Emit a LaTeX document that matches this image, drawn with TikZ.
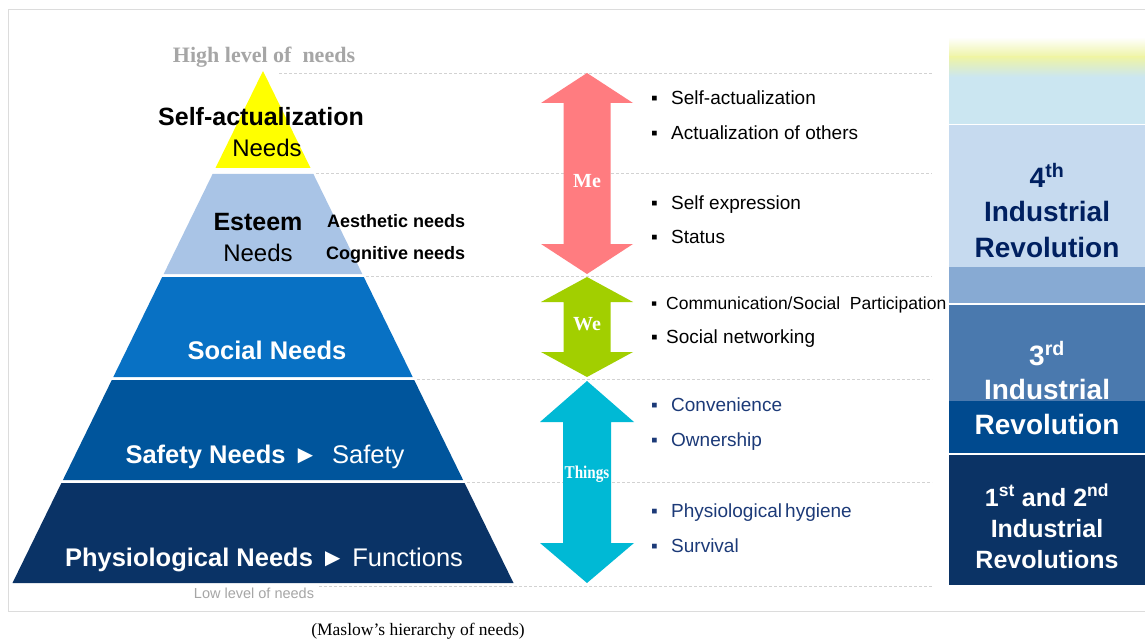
\documentclass[tikz,border=0pt]{standalone}
\usepackage{fontspec}
\setmainfont{Liberation Serif}
\newfontfamily\arial{Liberation Sans}
\usetikzlibrary{calc}
\definecolor{framegray}{HTML}{DCDCDC}
\definecolor{guidegray}{HTML}{D2D2D2}
\definecolor{lvlgray}{HTML}{A6A6A6}
\definecolor{cyel}{HTML}{FFFF00}
\definecolor{cesteem}{HTML}{A9C4E6}
\definecolor{csocial}{HTML}{0871C4}
\definecolor{csafety}{HTML}{00559C}
\definecolor{cphysio}{HTML}{0A3366}
\definecolor{cme}{HTML}{FF7C80}
\definecolor{cwe}{HTML}{A2CF00}
\definecolor{cthings}{HTML}{00B9D5}
\definecolor{navytext}{HTML}{1C3A78}
\definecolor{ir4}{HTML}{002060}
\definecolor{gyel}{HTML}{EEF4A6}
\definecolor{gcyan}{HTML}{CBE6F1}
\definecolor{blk4}{HTML}{C6DAEF}
\definecolor{blkmid}{HTML}{87AAD3}
\definecolor{blk3a}{HTML}{4A79AE}
\definecolor{blk3b}{HTML}{004A8F}
\definecolor{blk12}{HTML}{0B3365}
\begin{document}
\begin{tikzpicture}[x=1pt,y=-1pt,
  guide/.style={guidegray, line width=0.8pt, dash pattern=on 3pt off 2pt},
  bigb/.style={anchor=base, inner sep=0pt, font=\arial\bfseries\fontsize{25}{25}\selectfont},
  bigr/.style={anchor=base, inner sep=0pt, font=\arial\fontsize{24}{24}\selectfont},
  layertext/.style={anchor=base, inner sep=0pt, text=white, font=\arial\fontsize{25.5}{25.5}\selectfont},
  side/.style={anchor=base west, inner sep=0pt, font=\arial\bfseries\fontsize{18}{18}\selectfont},
  bul/.style={anchor=base west, inner sep=0pt, font=\arial\fontsize{19}{19}\selectfont},
  arrlabel/.style={anchor=base, inner sep=0pt, text=white, font=\bfseries\fontsize{20}{20}\selectfont},
  irtext/.style={anchor=base, inner sep=0pt, font=\arial\bfseries\fontsize{28}{28}\selectfont},
]
\useasboundingbox (0,0) rectangle (1145,639);
\fill[white] (0,0) rectangle (1145,639);
% frame
\draw[framegray, line width=1pt] (1145,10) -- (8,10) -- (8,611) -- (1145,611);

% guide lines
\draw[guide] (279,73) -- (932,73);
\draw[guide] (316,173) -- (932,173);
\draw[guide] (366,276) -- (932,276);
\draw[guide] (417,379) -- (932,379);
\draw[guide] (467,482) -- (932,482);
\draw[guide] (319,586) -- (932,586);

% pyramid
\fill[cyel] (263,71) -- (310.5,168) -- (215.5,168) -- cycle;
\fill[cesteem] (212.6,174) -- (313.4,174) -- (362.3,274) -- (163.7,274) -- cycle;
\fill[csocial] (162.2,277) -- (363.8,277) -- (412.7,377) -- (113.3,377) -- cycle;
\fill[csafety] (111.8,380) -- (414.2,380) -- (463.1,480) -- (62.9,480) -- cycle;
\fill[cphysio] (61.4,483) -- (464.6,483) -- (513.5,583) -- (12.5,583) -- cycle;

\node[anchor=base, inner sep=0pt, text=lvlgray, font=\bfseries\fontsize{22}{22}\selectfont] (high) at (264,63) {High level of\ \ needs};
\node[bigb] (sa) at (261,126) {Self-actualization};
\node[bigr] (saN) at (267,157) {Needs};
\node[bigb] (est) at (258,230) {Esteem};
\node[bigr] (estN) at (258,261) {Needs};
\node[side] (aes) at (327,227) {Aesthetic needs};
\node[side] (cog) at (326,259) {Cognitive needs};
\node[layertext] (soc) at (267,359) {\bfseries Social Needs};
\node[layertext] (saf) at (265,463) {\bfseries Safety Needs \mdseries ►\ \ Safety};
\node[layertext] (phy) at (264,566) {\bfseries Physiological Needs \mdseries ► Functions};
\node[anchor=base, inner sep=0pt, text=lvlgray, font=\arial\fontsize{14.5}{14.5}\selectfont] (low) at (254,598) {Low level of needs};

% double arrows
\fill[cme] (587,73) -- (633,103) -- (610.5,103) -- (610.5,244) -- (633,244) -- (587,274)
  -- (541,244) -- (563.5,244) -- (563.5,103) -- (541,103) -- cycle;
\fill[cwe] (587,277) -- (633,302) -- (610.5,302) -- (610.5,352) -- (633,352) -- (587,377)
  -- (541,352) -- (563.5,352) -- (563.5,302) -- (541,302) -- cycle;
\fill[cthings] (587,381) -- (634,422) -- (611,422) -- (611,543) -- (634,543) -- (587,583)
  -- (540,543) -- (563,543) -- (563,422) -- (540,422) -- cycle;
\node[arrlabel] (me) at (587,187) {Me};
\node[arrlabel] (we) at (587,330) {We};
\node[arrlabel, font=\bfseries\fontsize{18}{18}\selectfont, xscale=0.84] (th) at (587,478) {Things};

% bullet lists
\node[bul] (b1) at (651,105) {\makebox[20pt][l]{▪}Self-actualization};
\node[bul] (b2) at (651,140) {\makebox[20pt][l]{▪}Actualization of others};
\node[bul] (b3) at (651,209) {\makebox[20pt][l]{▪}Self expression};
\node[bul] (b4) at (651,243) {\makebox[20pt][l]{▪}Status};
\node[bul, font=\arial\fontsize{17.5}{17.5}\selectfont] (b5) at (651,309) {\makebox[15pt][l]{▪}Communication/Social\ \ Participation};
\node[bul] (b6) at (651,343) {\makebox[15pt][l]{▪}Social networking};
\node[bul, text=navytext] (b7) at (651,411) {\makebox[20pt][l]{▪}Convenience};
\node[bul, text=navytext] (b8) at (651,446) {\makebox[20pt][l]{▪}Ownership};
\node[bul, text=navytext] (b9) at (651,517) {\makebox[20pt][l]{▪}Physiological\,hygiene};
\node[bul, text=navytext] (b10) at (651,552) {\makebox[20pt][l]{▪}Survival};

% right column
\shade[top color=white, bottom color=gyel] (949,37) rectangle (1145,57);
\shade[top color=gyel, bottom color=gcyan] (949,57) rectangle (1145,77);
\fill[gcyan] (949,77) rectangle (1145,124);
\fill[blk4] (949,125) rectangle (1145,267);
\fill[blkmid] (949,267) rectangle (1145,303);
\fill[blk3a] (949,305) rectangle (1145,401);
\fill[blk3b] (949,401) rectangle (1145,453);
\fill[blk12] (949,455) rectangle (1145,585);

\node[irtext, text=ir4] (ir4a) at (1047,187) {4\textsuperscript{th}};
\node[irtext, text=ir4] (ir4b) at (1047,222) {Industrial};
\node[irtext, text=ir4] (ir4c) at (1047,257) {Revolution};
\node[irtext, text=white] (ir3a) at (1047,365) {3\textsuperscript{rd}};
\node[irtext, text=white] (ir3b) at (1047,399) {Industrial};
\node[irtext, text=white] (ir3c) at (1047,434) {Revolution};
\node[irtext, text=white, font=\arial\bfseries\fontsize{25}{25}\selectfont] (ir1a) at (1047,506) {1\textsuperscript{st} and 2\textsuperscript{nd}};
\node[irtext, text=white, font=\arial\bfseries\fontsize{25}{25}\selectfont] (ir1b) at (1047,537) {Industrial};
\node[irtext, text=white, font=\arial\bfseries\fontsize{25}{25}\selectfont] (ir1c) at (1047,568) {Revolutions};

% caption
\node[anchor=base, inner sep=0pt, font=\fontsize{17.5}{17.5}\selectfont] (cap) at (418,635) {(Maslow’s hierarchy of needs)};
\end{tikzpicture}
\end{document}
